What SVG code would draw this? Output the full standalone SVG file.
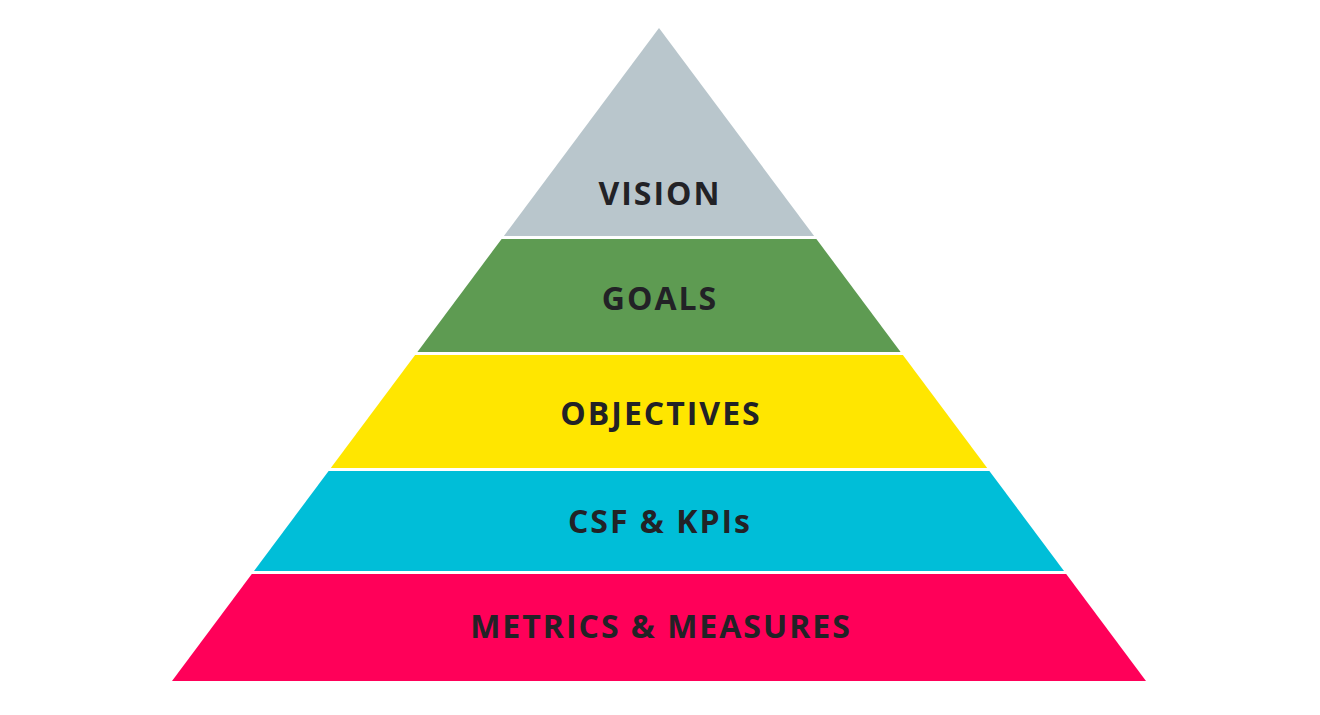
<svg xmlns="http://www.w3.org/2000/svg" width="1320" height="715" viewBox="0 0 1320 715">
<style>
.t{font-family:"Open Sans","Liberation Sans",sans-serif;font-weight:bold;font-size:32px;fill:#222226;text-anchor:middle;letter-spacing:2px}
</style>
<rect width="1320" height="715" fill="#ffffff"/>
<g id="vision"><polygon points="659,28 814.1,236 503.9,236" fill="#b9c6cc"/><text class="t" x="660" y="205">VISION</text></g>
<g id="goals"><polygon points="501.6,239 816.4,239 900.6,352 417.4,352" fill="#5e9b52"/><text class="t" x="660" y="310">GOALS</text></g>
<g id="objectives"><polygon points="415.1,355 902.9,355 987.2,468 330.8,468" fill="#ffe600"/><text class="t" x="661" y="425">OBJECTIVES</text></g>
<g id="csf"><polygon points="328.6,471 989.4,471 1064,571 254,571" fill="#00bed8"/><text class="t" x="660" y="533">CSF &amp; KPIs</text></g>
<g id="metrics"><polygon points="251.8,574 1066.2,574 1146,681 172,681" fill="#ff0059"/><text class="t" x="661" y="638">METRICS &amp; MEASURES</text></g>
</svg>
